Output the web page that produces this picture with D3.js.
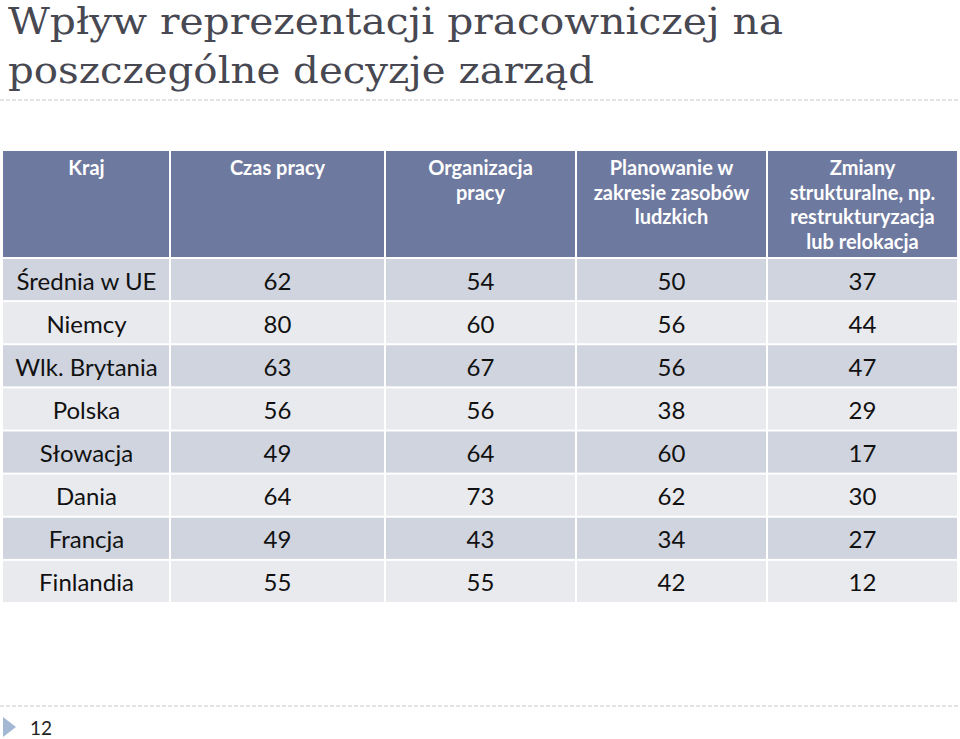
<!DOCTYPE html>
<html>
<head>
<meta charset="utf-8">
<script src="https://cdn.jsdelivr.net/npm/d3@7"></script>
<style>
  body { margin: 0; background: #fff; }
  svg { display: block; }
</style>
</head>
<body>
<div id="chart"></div>
<script>
// data
const titleLines = ["Wpływ reprezentacji pracowniczej na", "poszczególne decyzje zarząd"];
const headers = [
  ["Kraj"],
  ["Czas pracy"],
  ["Organizacja", "pracy"],
  ["Planowanie w", "zakresie zasobów", "ludzkich"],
  ["Zmiany", "strukturalne, np.", "restrukturyzacja", "lub relokacja"]
];
const countries = ["Średnia w UE", "Niemcy", "Wlk. Brytania", "Polska", "Słowacja", "Dania", "Francja", "Finlandia"];
const czasPracy = [62, 80, 63, 56, 49, 64, 49, 55];
const organizacjaPracy = [54, 60, 67, 56, 64, 73, 43, 55];
const planowanie = [50, 56, 56, 38, 60, 62, 34, 42];
const zmiany = [37, 44, 47, 29, 17, 30, 27, 12];
const pageNumber = "12";

const W = 960, H = 739;
const svg = d3.select("#chart").append("svg")
  .attr("width", W).attr("height", H)
  .attr("viewBox", `0 0 ${W} ${H}`);

// title
const title = svg.append("g");
title.selectAll("text")
  .data(titleLines)
  .enter().append("text")
    .attr("x", 8)
    .attr("y", (d, i) => 34 + i * 49)
    .attr("font-family", "'DejaVu Serif', serif")
    .attr("font-size", 37)
    .attr("fill", "#474852")
    .attr("textLength", (d, i) => i === 0 ? 775 : 586)
    .attr("lengthAdjust", "spacingAndGlyphs")
    .text(d => d);

// dashed rules
[100, 706].forEach(y => {
  svg.append("line")
    .attr("x1", 0).attr("x2", W)
    .attr("y1", y).attr("y2", y)
    .attr("stroke", "#c4c8cc")
    .attr("stroke-width", 1.2)
    .attr("stroke-dasharray", "4,2");
});

// table layout
const colEdges = [3, 170, 385, 576, 767, 958];
const headTop = 151, headBottom = 258, tableBottom = 603;
const columns = [countries, czasPracy, organizacjaPracy, planowanie, zmiany];

const y = d3.scaleBand()
  .domain(d3.range(countries.length))
  .range([headBottom, tableBottom]);

const table = svg.append("g");

// header cells
const head = table.selectAll("g.head")
  .data(headers)
  .enter().append("g").attr("class", "head");

head.append("rect")
  .attr("x", (d, i) => colEdges[i] + (i ? 1 : 0))
  .attr("y", headTop)
  .attr("width", (d, i) => colEdges[i + 1] - colEdges[i] - (i ? 2 : 1))
  .attr("height", headBottom - headTop - 1)
  .attr("fill", "#6e799f");

head.each(function(lines, i) {
  const cx = (colEdges[i] + colEdges[i + 1]) / 2;
  d3.select(this).selectAll("text")
    .data(lines)
    .enter().append("text")
      .attr("x", cx)
      .attr("y", (d, j) => 175 + j * 24.5)
      .attr("text-anchor", "middle")
      .attr("font-family", "Lato, sans-serif")
      .attr("font-weight", "bold")
      .attr("font-size", 20)
      .attr("fill", "#fff")
      .text(d => d);
});

// body cells
countries.forEach((c, r) => {
  const row = table.append("g");
  columns.forEach((col, i) => {
    row.append("rect")
      .attr("x", colEdges[i] + (i ? 1 : 0))
      .attr("y", y(r) + 1)
      .attr("width", colEdges[i + 1] - colEdges[i] - (i ? 2 : 1))
      .attr("height", y.bandwidth() - 2)
      .attr("fill", r % 2 === 0 ? "#d0d4df" : "#e9eaee");
    row.append("text")
      .attr("x", (colEdges[i] + colEdges[i + 1]) / 2)
      .attr("y", y(r) + y.bandwidth() / 2 + 10)
      .attr("text-anchor", "middle")
      .attr("font-family", "Lato, sans-serif")
      .attr("font-size", 24)
      .attr("fill", "#111")
      .text(col[r]);
  });
});

// footer
svg.append("path")
  .attr("d", "M3,717 L16,727 L3,737 Z")
  .attr("fill", "#a3b8d3");
svg.append("text")
  .attr("x", 30).attr("y", 735)
  .attr("font-family", "Lato, sans-serif")
  .attr("font-size", 19)
  .attr("fill", "#222")
  .text(pageNumber);
</script>
</body>
</html>
